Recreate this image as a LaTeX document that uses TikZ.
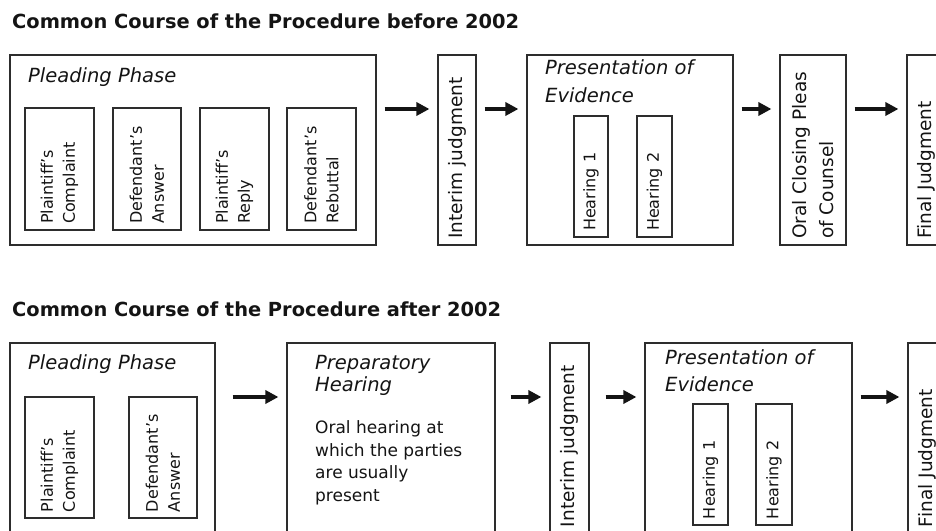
\documentclass[tikz,border=0pt]{standalone}
\usepackage{fontspec}
\setmainfont{DejaVu Sans}
\usepackage{tikz}
\usetikzlibrary{arrows.meta, positioning}
\usepackage{xcolor}
\definecolor{linegray}{RGB}{45, 45, 45}
\definecolor{textblack}{RGB}{20, 20, 20}

\begin{document}
\begin{tikzpicture}[x=1pt, y=1pt, text=textblack,
    phasebox/.style 2 args={draw=linegray, line width=1.2pt, minimum width=#1, minimum height=#2, inner sep=0pt},
    vlabel/.style 2 args={draw=linegray, line width=1.2pt, rotate=90, align=left, inner xsep=6pt, inner ysep=0pt,
        minimum height=#1, text width=#2, font=\fontsize{16}{22}\selectfont},
    biglabel/.style={font=\fontsize{18.5}{27}\selectfont},
    phasehead/.style={anchor=base west, align=left, inner sep=0pt, font=\fontsize{19.5}{28}\selectfont\itshape},
    bodytext/.style={anchor=base west, align=left, inner sep=0pt, font=\fontsize{17}{22.6}\selectfont},
    flowtitle/.style={anchor=base west, inner sep=0pt, font=\fontsize{19.4}{23}\selectfont\bfseries},
    flowarrow/.style={-{Triangle[length=13pt, width=13pt]}, line width=3.5pt, draw=textblack, shorten <=8pt, shorten >=8pt}]
    \useasboundingbox (0,0) rectangle (936,530);
    \clip (0,0) rectangle (936,530);

    \node[flowtitle] (titlebefore) at (12,501) {Common Course of the Procedure before 2002};
    \node[phasebox={366pt}{190pt}] (pleading1) at (193,380) {};
    \node[phasehead] (pleadhead1) at (28,447) {Pleading Phase};
    \node[vlabel={69pt}{110pt}] (complaint1) at (59.5,361) {Plaintiff's\\Complaint};
    \node[vlabel={68pt}{110pt}] (answer1) at (147,361) {Defendant's\\Answer};
    \node[vlabel={69pt}{110pt}] (reply1) at (234.5,361) {Plaintiff's\\Reply};
    \node[vlabel={69pt}{110pt}] (rebuttal1) at (321.5,361) {Defendant's\\Rebuttal};
    \node[vlabel={38pt}{178pt}, biglabel] (interim1) at (457,380) {Interim judgment};
    \node[phasebox={206pt}{190pt}] (evidence1) at (630,380) {};
    \node[phasehead] (evidhead1) at (545,427) {Presentation of\\Evidence};
    \node[vlabel={34pt}{109pt}] (hearingA1) at (591,353.5) {Hearing 1};
    \node[vlabel={35pt}{109pt}] (hearingB1) at (654.5,353.5) {Hearing 2};
    \node[vlabel={66pt}{178pt}, biglabel] (closing1) at (813,380) {Oral Closing Pleas\\of Counsel};
    \node[vlabel={38pt}{178pt}, biglabel] (final1) at (926,380) {Final Judgment};

    \draw[flowarrow] ([yshift=41pt]pleading1.east) -- ([yshift=41pt]interim1.north);
    \draw[flowarrow] ([yshift=41pt]interim1.south) -- ([yshift=41pt]evidence1.west);
    \draw[flowarrow] ([yshift=41pt]evidence1.east) -- ([yshift=41pt]closing1.north);
    \draw[flowarrow] ([yshift=41pt]closing1.south) -- ([yshift=41pt]final1.north);

    \node[flowtitle] (titleafter) at (12,213) {Common Course of the Procedure after 2002};
    \node[phasebox={205pt}{190pt}] (pleading2) at (112.5,92) {};
    \node[phasehead] (pleadhead2) at (28,160) {Pleading Phase};
    \node[vlabel={69pt}{109pt}] (complaint2) at (59.5,72.5) {Plaintiff's\\Complaint};
    \node[vlabel={68pt}{109pt}] (answer2) at (163,72.5) {Defendant's\\Answer};
    \node[phasebox={208pt}{190pt}] (prep2) at (391,92) {};
    \node[phasehead, font=\fontsize{19.5}{22}\selectfont\itshape] (prephead2) at (315,138.5) {Preparatory\\Hearing};
    \node[bodytext] (prepbody2) at (315,28.5) {Oral hearing at\\which the parties\\are usually\\present};
    \node[vlabel={39pt}{178pt}, biglabel] (interim2) at (569.5,92) {Interim judgment};
    \node[phasebox={207pt}{190pt}] (evidence2) at (748.5,92) {};
    \node[phasehead] (evidhead2) at (665,138) {Presentation of\\Evidence};
    \node[vlabel={35pt}{109pt}] (hearingA2) at (710.5,65.5) {Hearing 1};
    \node[vlabel={36pt}{109pt}] (hearingB2) at (774,65.5) {Hearing 2};
    \node[vlabel={38pt}{178pt}, biglabel] (final2) at (927,92) {Final Judgment};

    \draw[flowarrow, shorten <=17pt] ([yshift=41pt]pleading2.east) -- ([yshift=41pt]prep2.west);
    \draw[flowarrow, shorten <=15pt] ([yshift=41pt]prep2.east) -- ([yshift=41pt]interim2.north);
    \draw[flowarrow, shorten <=16pt] ([yshift=41pt]interim2.south) -- ([yshift=41pt]evidence2.west);
    \draw[flowarrow] ([yshift=41pt]evidence2.east) -- ([yshift=41pt]final2.north);
\end{tikzpicture}
\end{document}
